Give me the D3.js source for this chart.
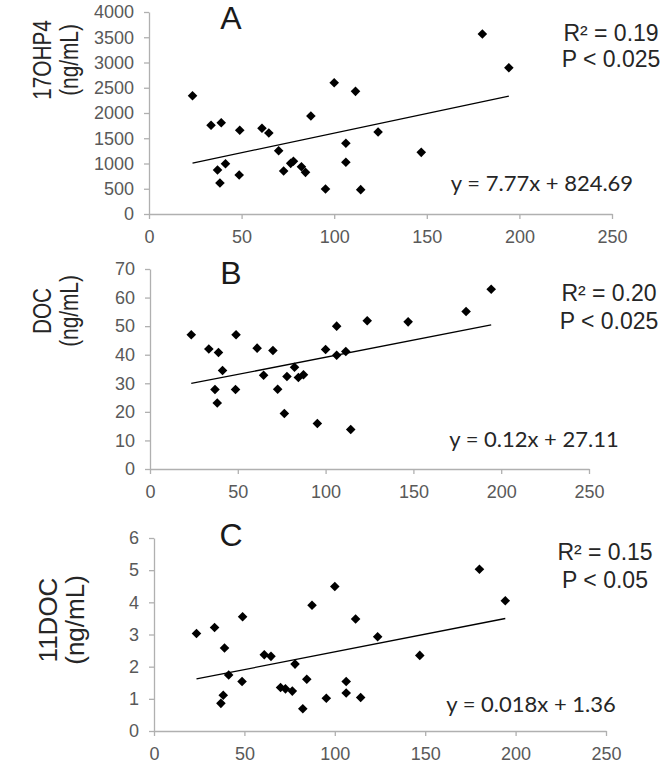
<!DOCTYPE html>
<html>
<head>
<meta charset="utf-8">
<script src="https://cdn.jsdelivr.net/npm/d3@7"></script>
<style>
body { margin: 0; background: #fff; }
text { font-family: "Liberation Sans", Arial, sans-serif; }
</style>
</head>
<body>
<div id="chart"></div>
<script>
// Data
var xValues = [23.5, 33.5, 37, 38.3, 39, 41.3, 48.7, 49, 61, 64.7, 70, 72.7, 76.5, 78, 82.3, 84.5, 87.4, 95.3, 100, 106.3, 106.3, 111.5, 114.3, 123.7, 147, 180, 194.3];
var ohp4 = [2342, 1756, 871, 614, 1808, 996, 772, 1657, 1697, 1604, 1254, 851, 1003, 1043, 937, 825, 1940, 495, 2600, 1400, 1024, 2429, 482, 1624, 1221, 3564, 2897];
var doc = [47.0, 42.0, 27.8, 23.1, 40.8, 34.5, 27.8, 47.0, 42.3, 32.8, 41.5, 27.9, 19.4, 32.4, 35.6, 32.0, 33.0, 15.9, 41.8, 50.0, 39.8, 41.1, 13.8, 51.9, 51.5, 55.1, 62.9];
var doc11 = [3.03, 3.22, 0.86, 1.11, 2.58, 1.74, 1.54, 3.55, 2.37, 2.32, 1.35, 1.31, 1.24, 2.08, 0.69, 1.61, 3.91, 1.02, 4.49, 1.54, 1.18, 3.48, 1.04, 2.93, 2.35, 5.03, 4.05];

var xTicks = [0, 50, 100, 150, 200, 250];
var ohp4Ticks = [0, 500, 1000, 1500, 2000, 2500, 3000, 3500, 4000];
var docTicks = [0, 10, 20, 30, 40, 50, 60, 70];
var doc11Ticks = [0, 1, 2, 3, 4, 5, 6];

var letters = ["A", "B", "C"];
var titles = ["17OHP4", "DOC", "11DOC"];
// trend lines as drawn in the figure (the C line is flatter than its printed equation)
var trendSlopes = [7.77, 0.12, 0.011];
var trendIntercepts = [824.69, 27.11, 1.36];
var equations = ["y = 7.77x + 824.69", "y = 0.12x + 27.11", "y = 0.018x + 1.36"];
var rSquared = ["R\u00b2 = 0.19", "R\u00b2 = 0.20", "R\u00b2 = 0.15"];
var pValues = ["P < 0.025", "P < 0.025", "P < 0.05"];

// Layout of the three panels
var width = 666, height = 765;
var panels = [
  { y: ohp4, ticks: ohp4Ticks, x0: 149, x1: 612, yTop: 12, yBot: 214,
    letterY: 29, titleY: 60, titleX: 51, titleSy: 0.8,
    rX: 611, rY: 41, pY: 67, eqX: 542, eqY: 191 },
  { y: doc, ticks: docTicks, x0: 150, x1: 589, yTop: 269, yBot: 469,
    letterY: 284, titleY: 311, titleX: 51, titleSy: 0.8,
    rX: 609, rY: 301, pY: 329, eqX: 534, eqY: 447 },
  { y: doc11, ticks: doc11Ticks, x0: 154, x1: 606, yTop: 538, yBot: 731,
    letterY: 546, titleY: 620, titleX: 57, titleSy: 1,
    rX: 605, rY: 560, pY: 588, eqX: 531, eqY: 712 }
];

var svg = d3.select("#chart").append("svg")
    .attr("width", width)
    .attr("height", height);

var diamond = d3.symbol().type(d3.symbolSquare).size(46);
var axisColor = "#b0b0b0";
var labelColor = "#595959";

panels.forEach(function(p, i){
    var g = svg.append("g");
    var yMax = p.ticks[p.ticks.length - 1];
    var xScale = d3.scaleLinear().domain([0, 250]).range([p.x0, p.x1]);
    var yScale = d3.scaleLinear().domain([0, yMax]).range([p.yBot, p.yTop]);

    var xAxis = g.append("g")
        .attr("transform", "translate(0," + p.yBot + ")")
        .call(d3.axisBottom(xScale).tickValues(xTicks).tickFormat(d3.format("d"))
            .tickSize(5).tickSizeOuter(0).tickPadding(11));
    var yAxis = g.append("g")
        .attr("transform", "translate(" + p.x0 + ",0)")
        .call(d3.axisLeft(yScale).tickValues(p.ticks).tickFormat(d3.format("d"))
            .tickSize(5).tickSizeOuter(0).tickPadding(10));

    [xAxis, yAxis].forEach(function(a){
        a.select(".domain").attr("stroke", axisColor).attr("stroke-width", 1.3);
        a.selectAll(".tick line").attr("stroke", axisColor).attr("stroke-width", 1.3);
        a.selectAll(".tick text")
            .attr("fill", labelColor)
            .style("font-size", "18px")
            .style("font-family", "'Liberation Sans', Arial, sans-serif");
    });

    // Trend line over the data's x range
    var xMin = d3.min(xValues), xMaxD = d3.max(xValues);
    g.append("line")
        .attr("x1", xScale(xMin)).attr("y1", yScale(trendSlopes[i] * xMin + trendIntercepts[i]))
        .attr("x2", xScale(xMaxD)).attr("y2", yScale(trendSlopes[i] * xMaxD + trendIntercepts[i]))
        .attr("stroke", "#000").attr("stroke-width", 1.3);

    // Points
    g.selectAll(".pt").data(xValues).enter().append("path")
        .attr("class", "pt")
        .attr("d", diamond)
        .attr("transform", function(d, j){
            return "translate(" + xScale(d) + "," + yScale(p.y[j]) + ")rotate(45)";
        })
        .attr("fill", "#000");

    // Panel letter
    g.append("text")
        .attr("x", 231).attr("y", p.letterY)
        .attr("text-anchor", "middle")
        .attr("fill", "#1a1a1a")
        .style("font-size", "32px")
        .text(letters[i]);

    // Y title, two lines, rotated
    var t = g.append("g").attr("transform", "translate(" + p.titleX + "," + p.titleY + ")scale(1," + p.titleSy + ")rotate(-90)");
    t.append("text").attr("x", 0).attr("y", 0).attr("text-anchor", "middle")
        .attr("fill", "#262626").style("font-size", "26px").text(titles[i]);
    t.append("text").attr("x", 0).attr("y", 27).attr("text-anchor", "middle")
        .attr("fill", "#262626").style("font-size", "26px").text("(ng/mL)");

    // Stats
    g.append("text").attr("x", p.rX).attr("y", p.rY).attr("text-anchor", "middle")
        .attr("fill", "#262626").style("font-size", "23px").text(rSquared[i]);
    g.append("text").attr("x", p.rX).attr("y", p.pY).attr("text-anchor", "middle")
        .attr("fill", "#262626").style("font-size", "23px").text(pValues[i]);
    g.append("text").attr("x", p.eqX).attr("y", p.eqY).attr("text-anchor", "middle")
        .attr("fill", "#262626")
        .style("font-family", "Lato, 'Open Sans', sans-serif")
        .style("font-size", "22px").text(equations[i]);
});
</script>
</body>
</html>
